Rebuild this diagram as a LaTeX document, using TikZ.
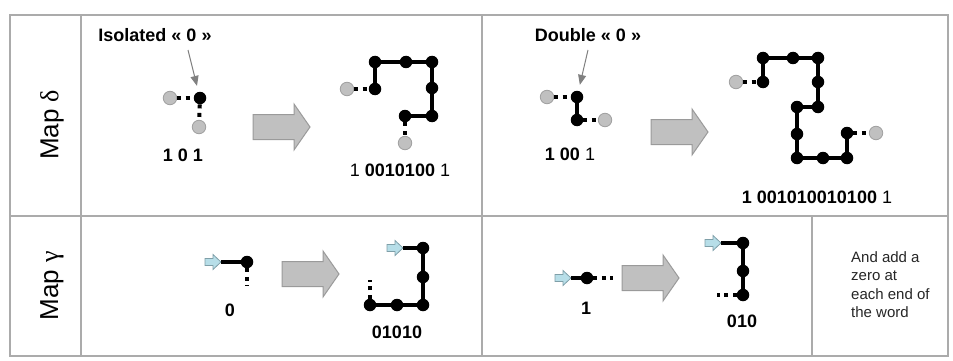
\documentclass[tikz,border=0pt]{standalone}
\usepackage{fontspec}
\setmainfont{Liberation Sans}
\newfontfamily\grk{Liberation Serif}
\usetikzlibrary{arrows.meta}
\definecolor{tblc}{HTML}{ABABAB}
\definecolor{gfill}{HTML}{C0C0C0}
\definecolor{gline}{HTML}{A0A0A0}
\definecolor{ptrc}{HTML}{808080}
\definecolor{bafill}{HTML}{C0C0C0}
\definecolor{baline}{HTML}{9A9A9A}
\definecolor{cyfill}{HTML}{B7DEE8}
\definecolor{cyline}{HTML}{7F9FA8}
\definecolor{notec}{HTML}{262626}
\tikzset{
  bd/.style={circle,fill=black,inner sep=0pt,minimum size=12.5pt},
  gd/.style={circle,fill=gfill,draw=gline,line width=0.8pt,inner sep=0pt,minimum size=13.5pt},
  solidc/.style={line width=3.5pt},
  dotc/.style={line width=4pt,dash pattern=on 4pt off 4.5pt},
  ptr/.style={draw=ptrc,line width=1pt,-{Triangle[length=10pt,width=8pt]}},
  lab/.style={font=\fontsize{18}{20}\selectfont\bfseries,inner sep=0pt},
  num/.style={font=\fontsize{18}{20}\selectfont,inner sep=0pt},
  maplab/.style={font=\fontsize{26}{28}\selectfont,inner sep=0pt},
  note/.style={font=\fontsize{15}{18.5}\selectfont,text=notec,align=left,inner sep=0pt},
  grid/.style={draw=tblc,line width=1.3pt},
  bigarrow/.pic={\draw[fill=bafill,draw=baline,line width=1pt] (0,-12.5)--(41,-12.5)--(41,-23)--(57,0)--(41,23)--(41,12.5)--(0,12.5)--cycle;},
  cyarrow/.pic={\draw[fill=cyfill,draw=cyline,line width=0.8pt] (0,-3.5)--(8,-3.5)--(8,-7.5)--(16,0)--(8,7.5)--(8,3.5)--(0,3.5)--cycle; \coordinate (-tip) at (16,0);}
}
\begin{document}
\begin{tikzpicture}[x=1pt,y=-1pt]
\useasboundingbox (0,0) rectangle (953,361);
% table
\draw[grid] (10,15) rectangle (948,356);
\draw[grid] (81,15) -- (81,356);
\draw[grid] (10,216) -- (948,216);
\draw[grid] (482,15) -- (482,356);
\draw[grid] (812,216) -- (812,356);
% row labels
\node[maplab,rotate=90] (mapd) at (52,125) {Map\hspace{7pt}{\grk δ}};
\node[maplab,rotate=90] (mapg) at (52,286) {Map\hspace{7pt}{\grk γ}};
% ---------- top left ----------
\node[lab] (iso) at (155,35) {Isolated « 0 »};
\node[gd] (g1) at (170,98) {};
\node[bd] (d1) at (200,98) {};
\node[gd] (g2) at (199,127) {};
\draw[dotc] (g1) -- (d1);
\draw[dotc] (d1) -- (g2);
\coordinate (p1s) at (188,50);
\draw[ptr,shorten >=6pt] (p1s) -- (d1);
\node[num] (w1) at (183,155) {\bfseries 1 0 1};
\pic at (253,127) {bigarrow};
\node[gd] (g3) at (347,89) {};
\node[bd] (b1) at (375,89) {};
\node[bd] (b2) at (375,62) {};
\node[bd] (b3) at (406,62) {};
\node[bd] (b4) at (432,62) {};
\node[bd] (b5) at (432,88) {};
\node[bd] (b6) at (432,116) {};
\node[bd] (b7) at (405,116) {};
\node[gd] (g4) at (405,143) {};
\draw[dotc] (g3) -- (b1);
\draw[solidc] (b1) -- (b2) -- (b3) -- (b4) -- (b5) -- (b6) -- (b7);
\draw[dotc] (b7) -- (g4);
\node[num] (w2) at (400,170) {1 \textbf{0010100} 1};
% ---------- top right ----------
\node[lab] (dbl) at (588,35) {Double « 0 »};
\node[gd] (g5) at (547,97) {};
\node[bd] (c1) at (577,97) {};
\node[bd] (c2) at (577,120) {};
\node[gd] (g6) at (605,120) {};
\draw[dotc] (g5) -- (c1);
\draw[solidc] (c1) -- (c2);
\draw[dotc] (c2) -- (g6);
\coordinate (p2s) at (588,50);
\draw[ptr,shorten >=6pt] (p2s) -- (c1);
\node[num] (w3) at (570,154) {\textbf{1 00} 1};
\pic at (651,132) {bigarrow};
\node[gd] (g7) at (736,82) {};
\node[bd] (e1) at (763,82) {};
\node[bd] (e2) at (763,58) {};
\node[bd] (e3) at (793,58) {};
\node[bd] (e4) at (818,58) {};
\node[bd] (e5) at (818,82) {};
\node[bd] (e6) at (818,107) {};
\node[bd] (e7) at (797,107) {};
\node[bd] (e8) at (797,134) {};
\node[bd] (e9) at (797,158) {};
\node[bd] (e10) at (823,158) {};
\node[bd] (e11) at (847,158) {};
\node[bd] (e12) at (847,133) {};
\node[gd] (g8) at (876,133) {};
\draw[dotc] (g7) -- (e1);
\draw[solidc] (e1) -- (e2) -- (e3) -- (e4) -- (e5) -- (e6) -- (e7) -- (e8) -- (e9) -- (e10) -- (e11) -- (e12);
\draw[dotc] (e12) -- (g8);
\node[num] (w4) at (817,197) {\textbf{1 001010010100} 1};
% ---------- bottom left ----------
\pic (ca1) at (205,262) {cyarrow};
\node[bd] (f1) at (247,262) {};
\coordinate (f1e) at (247,286);
\draw[solidc] (ca1-tip) -- (f1);
\draw[dotc] (f1) -- (f1e);
\node[num] (w5) at (230,310) {\bfseries 0};
\pic at (282,274) {bigarrow};
\pic (ca2) at (387,248) {cyarrow};
\node[bd] (h1) at (423,248) {};
\node[bd] (h2) at (423,277) {};
\node[bd] (h3) at (423,305) {};
\node[bd] (h4) at (397,305) {};
\node[bd] (h5) at (370,305) {};
\coordinate (h5e) at (370,280);
\draw[solidc] (ca2-tip) -- (h1) -- (h2) -- (h3) -- (h4) -- (h5);
\draw[dotc] (h5) -- (h5e);
\node[num] (w6) at (397,332) {\bfseries 01010};
% ---------- bottom right ----------
\pic (ca3) at (555,278) {cyarrow};
\node[bd] (k1) at (587,278) {};
\coordinate (k1e) at (613,278);
\draw[solidc] (ca3-tip) -- (k1);
\draw[dotc] (k1) -- (k1e);
\node[num] (w7) at (586,308) {\bfseries 1};
\pic at (622,278) {bigarrow};
\pic (ca4) at (705,243) {cyarrow};
\node[bd] (m1) at (743,243) {};
\node[bd] (m2) at (743,271) {};
\node[bd] (m3) at (743,295) {};
\coordinate (m3e) at (717,295);
\draw[solidc] (ca4-tip) -- (m1) -- (m2) -- (m3);
\draw[dotc] (m3) -- (m3e);
\node[num] (w8) at (742,321) {\bfseries 010};
\node[note,anchor=north west] (nt) at (851,251) {And add a\\zero at\\each end of\\the word};
\end{tikzpicture}
\end{document}
